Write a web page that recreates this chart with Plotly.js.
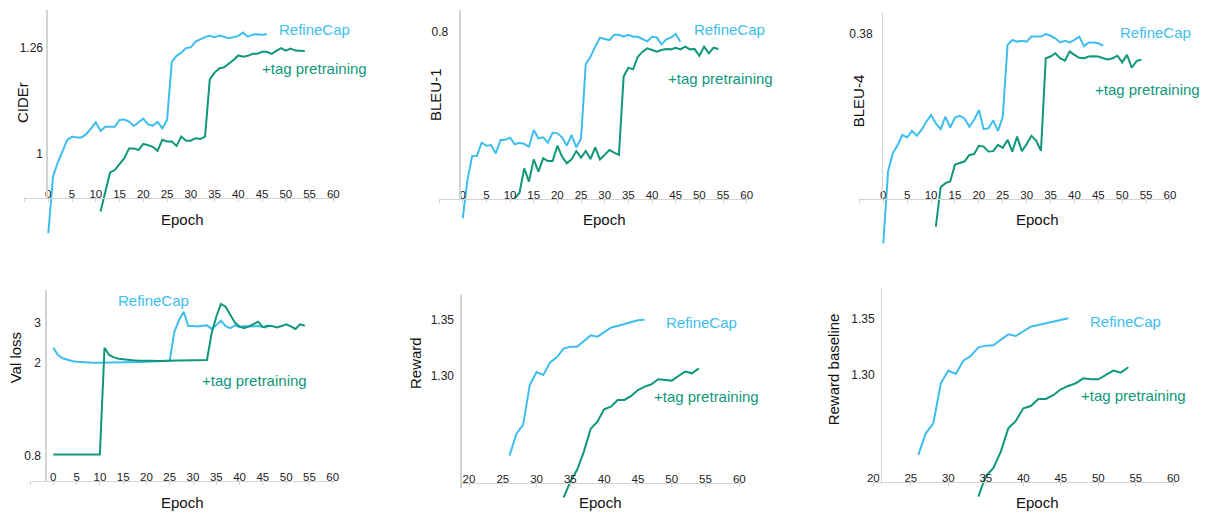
<!DOCTYPE html>
<html>
<head>
<meta charset="utf-8">
<script src="https://cdn.plot.ly/plotly-3.0.1.min.js"></script>
<style>
html,body{margin:0;padding:0;background:#fff;}
#chart{width:1213px;height:517px;}
</style>
</head>
<body>
<div id="chart"></div>
<script>
// ---------------- DATA ----------------
const seriesNames = ["RefineCap", "+tag pretraining"];
const panelTitles = ["CIDEr", "BLEU-1", "BLEU-4", "Val loss", "Reward", "Reward baseline"];
const xTitle = "Epoch";

const epochsRefine = [0,1,2,3,4,5,6,7,8,9,10,11,12,13,14,15,16,17,18,19,20,21,22,23,24,25,26,27,28,29,30,31,32,33,34,35,36,37,38,39,40,41,42,43,44,45,46];
const epochsTag = [11,12,13,14,15,16,17,18,19,20,21,22,23,24,25,26,27,28,29,30,31,32,33,34,35,36,37,38,39,40,41,42,43,44,45,46,47,48,49,50,51,52,53,54];
const epochsTagLoss = [0,1,2,3,4,5,6,7,8,9,10,11,12,13,14,15,16,17,18,19,20,21,22,23,24,25,26,27,28,29,30,31,32,33,34,35,36,37,38,39,40,41,42,43,44,45,46,47,48,49,50,51,52,53,54];
const epochsRefineReward = [26,27,28,29,30,31,32,33,34,35,36,37,38,39,40,41,42,43,44,45,46];
const epochsTagReward = [34,35,36,37,38,39,40,41,42,43,44,45,46,47,48,49,50,51,52,53,54];

const ciderRefine = [0.804,0.943,0.978,1.007,1.033,1.041,1.039,1.039,1.047,1.061,1.076,1.055,1.065,1.065,1.065,1.082,1.083,1.078,1.067,1.076,1.085,1.071,1.068,1.077,1.061,1.082,1.224,1.239,1.247,1.258,1.260,1.274,1.280,1.285,1.288,1.285,1.289,1.286,1.282,1.285,1.288,1.296,1.286,1.291,1.292,1.291,1.292];
const ciderTag = [0.857,0.905,0.953,0.959,0.975,0.988,1.012,1.012,1.008,1.023,1.020,1.016,1.006,1.033,1.029,1.029,1.018,1.041,1.031,1.031,1.037,1.035,1.041,1.182,1.198,1.208,1.211,1.219,1.229,1.240,1.237,1.239,1.244,1.244,1.249,1.249,1.244,1.251,1.258,1.252,1.257,1.252,1.251,1.251];

const bleu1Refine = [0.6775,0.7026,0.7184,0.7186,0.7271,0.7252,0.7256,0.7201,0.7289,0.7291,0.7304,0.7261,0.7271,0.7263,0.7245,0.7355,0.7300,0.7307,0.7271,0.7337,0.7333,0.7307,0.7252,0.7322,0.7241,0.7300,0.7786,0.7836,0.7902,0.7961,0.7952,0.7945,0.7980,0.7980,0.7967,0.7980,0.7967,0.7967,0.7952,0.7937,0.7967,0.7963,0.7917,0.7950,0.7961,0.7985,0.7934];
const bleu1Tag = [0.6906,0.6943,0.7103,0.7016,0.7162,0.7081,0.7169,0.7151,0.7151,0.7252,0.7180,0.7136,0.7162,0.7217,0.7173,0.7217,0.7164,0.7241,0.7162,0.7191,0.7223,0.7206,0.7191,0.7705,0.7764,0.7753,0.7836,0.7869,0.7891,0.7880,0.7869,0.7880,0.7886,0.7884,0.7895,0.7884,0.7902,0.7884,0.7886,0.7842,0.7902,0.7858,0.7895,0.7886];

const bleu4Refine = [0.3294,0.3467,0.3511,0.3531,0.3555,0.3549,0.3565,0.3553,0.3567,0.3587,0.3603,0.3583,0.3569,0.3599,0.3573,0.3597,0.3601,0.3595,0.3575,0.3591,0.3615,0.3569,0.3571,0.3590,0.3565,0.3599,0.3772,0.3784,0.3780,0.3782,0.3780,0.3792,0.3792,0.3792,0.3798,0.3794,0.3788,0.3778,0.3782,0.3778,0.3784,0.3792,0.3769,0.3778,0.3778,0.3776,0.3770];
const bleu4Tag = [0.3334,0.3429,0.3439,0.3443,0.3484,0.3487,0.3491,0.3507,0.3509,0.3529,0.3527,0.3515,0.3516,0.3531,0.3524,0.3543,0.3515,0.3551,0.3516,0.3533,0.3553,0.3541,0.3517,0.3740,0.3744,0.3752,0.3740,0.3734,0.3756,0.3748,0.3741,0.3740,0.3744,0.3745,0.3744,0.3740,0.3737,0.3740,0.3746,0.3730,0.3748,0.3717,0.3733,0.3737];

const valLossRefine = [2.333,2.17,2.10,2.065,2.044,2.03,2.02,2.015,2.012,2.01,2.01,2.01,2.01,2.01,2.012,2.015,2.018,2.02,2.022,2.025,2.028,2.032,2.036,2.04,2.045,2.05,2.73,3.07,3.33,2.89,2.89,2.88,2.90,2.91,2.81,2.91,3.05,2.89,2.83,2.91,2.86,2.89,2.88,2.88,2.89,2.86,2.85];
const valLossTag = [0.81,0.81,0.81,0.81,0.81,0.81,0.81,0.81,0.81,0.81,0.81,2.33,2.17,2.12,2.09,2.08,2.065,2.06,2.055,2.05,2.045,2.045,2.045,2.045,2.05,2.05,2.05,2.05,2.055,2.055,2.06,2.06,2.065,2.065,2.69,3.17,3.60,3.50,3.23,2.99,2.88,2.83,2.88,2.94,3.02,2.86,2.90,2.89,2.85,2.89,2.94,2.88,2.81,2.94,2.90];

const rewardRefine = [1.2274,1.2470,1.2551,1.2913,1.3030,1.3003,1.3117,1.3163,1.3241,1.3259,1.3259,1.3307,1.3361,1.3349,1.3389,1.3431,1.3446,1.3461,1.3482,1.3497,1.3503];
const rewardTag = [1.1895,1.2039,1.2145,1.2310,1.2515,1.2581,1.2693,1.2717,1.2777,1.2777,1.2813,1.2867,1.2898,1.2919,1.2964,1.2958,1.2952,1.2994,1.3033,1.3018,1.3063];

const baselineRefine = [1.2280,1.2473,1.2563,1.2920,1.3033,1.3003,1.3122,1.3164,1.3241,1.3256,1.3259,1.3307,1.3357,1.3342,1.3381,1.3426,1.3440,1.3455,1.3476,1.3491,1.3500];
const baselineTag = [1.1908,1.2092,1.2161,1.2310,1.2518,1.2583,1.2696,1.2717,1.2780,1.2780,1.2813,1.2866,1.2896,1.2920,1.2964,1.2955,1.2955,1.2994,1.3033,1.3015,1.3063];

const epochTickVals = [-5,0,5,10,15,20,25,30,35,40,45,50,55,60];
const epochTickText = ["","0","5","10","15","20","25","30","35","40","45","50","55","60"];
const rewardTickVals = [20,25,30,35,40,45,50,55,60];
const rewardTickText = ["20","25","30","35","40","45","50","55","60"];

const yTickVals = [[1,1.26],[0.8],[0.38],[0.8,2,3],[1.30,1.35],[1.30,1.35]];
const yTickText = [["1","1.26"],["0.8"],["0.38"],["0.8","2","3"],["1.30","1.35"],["1.30","1.35"]];

// ---------------- LAYOUT / STYLE ----------------
const W = 1213, H = 517;
const BLUE = '#3EBEEE', GREEN = '#0E977A';
const FONT = '"Liberation Sans", Arial, Helvetica, sans-serif';
const AXC = '#d3d3d3';

const geo = [
  {xp0:48.3, xe0:0, xp1:333.3, xe1:60, xr:[-5.05,60.5], yAxPx:46, xAxPy:198.3, yTop:10, yBot:240, yLineBot:198.3, ytype:'linear', yv0:1, yp0:153.3, yv1:1.26, yp1:47.3, standoff:3,
   titleY:[22,103], titleX:[182.5,220], lab1:[314,30], lab2:[314,68.3]},
  {xp0:462.7, xe0:0, xp1:746.7, xe1:60, xr:[-5.05,60.5], yAxPx:459.3, xAxPy:199.3, yTop:10, yBot:225, yLineBot:199.3, ytype:'linear', yv0:0.69, yp0:199.3, yv1:0.8, yp1:31.7, standoff:11,
   titleY:[435,95], titleX:[604,220], lab1:[729,30], lab2:[720.3,78.3]},
  {xp0:883.3, xe0:0, xp1:1170, xe1:60, xr:[-5.05,60.5], yAxPx:881.7, xAxPy:199.3, yTop:13, yBot:248, yLineBot:199.3, ytype:'linear', yv0:0.34, yp0:199.3, yv1:0.38, yp1:33.3, standoff:9,
   titleY:[858.3,101], titleX:[1037,219.3], lab1:[1155.5,32.7], lab2:[1147.7,89.3]},
  {xp0:53.3, xe0:0, xp1:332.7, xe1:60, xr:[-5.1,60.5], yAxPx:45, xAxPy:481, yTop:290, yBot:481, yLineBot:481, ytype:'log', yv0:0.8, yp0:455.7, yv1:3, yp1:322.3, standoff:4,
   titleY:[15,358.3], titleX:[182.5,502.3], lab1:[153.8,300], lab2:[254.3,380]},
  {xp0:469, xe0:20, xp1:739.3, xe1:60, xr:[18.67,60.5], yAxPx:460, xAxPy:483.3, yTop:295, yBot:502, yLineBot:488, ytype:'linear', yv0:1.30, yp0:375.3, yv1:1.35, yp1:320, standoff:6,
   titleY:[415.7,363.3], titleX:[600,502.3], lab1:[701.2,322.3], lab2:[706.7,396]},
  {xp0:873.3, xe0:20, xp1:1173.3, xe1:60, xr:[19.95,60.4], yAxPx:880.7, xAxPy:482.3, yTop:288.3, yBot:500, yLineBot:484, ytype:'linear', yv0:1.30, yp0:374.3, yv1:1.35, yp1:318.3, standoff:6,
   titleY:[833.3,369], titleX:[1037,502.3], lab1:[1125.5,321.7], lab2:[1133.3,395]}
];

const seriesX = [
  [epochsRefine, epochsTag],
  [epochsRefine, epochsTag],
  [epochsRefine, epochsTag],
  [epochsRefine, epochsTagLoss],
  [epochsRefineReward, epochsTagReward],
  [epochsRefineReward, epochsTagReward]
];
const seriesY = [
  [ciderRefine, ciderTag],
  [bleu1Refine, bleu1Tag],
  [bleu4Refine, bleu4Tag],
  [valLossRefine, valLossTag],
  [rewardRefine, rewardTag],
  [baselineRefine, baselineTag]
];

function xPx(g, e){ return g.xp0 + (e - g.xe0) * (g.xp1 - g.xp0) / (g.xe1 - g.xe0); }
function yVal(g, py){
  const f = g.ytype === 'log' ? Math.log10 : (v => v);
  const a = f(g.yv0), b = f(g.yv1);
  return a + (py - g.yp0) * (b - a) / (g.yp1 - g.yp0);
}

const traces = [];
const layout = {
  width: W, height: H,
  margin: {l:0, r:0, t:0, b:0, pad:0},
  paper_bgcolor: '#ffffff', plot_bgcolor: 'rgba(0,0,0,0)',
  showlegend: false,
  font: {family: FONT, size: 11, color: '#222'},
  annotations: []
};

const colors = [BLUE, GREEN];

geo.forEach((g, i) => {
  const k = i + 1;
  const xa = 'x' + k, ya = 'y' + k, yl = 'y' + (k + 6);
  const xName = 'xaxis' + k, yName = 'yaxis' + k, ylName = 'yaxis' + (k + 6);
  const isReward = i >= 4;

  for (let s = 0; s < 2; s++) {
    traces.push({
      type: 'scatter', mode: 'lines', name: seriesNames[s],
      x: seriesX[i][s], y: seriesY[i][s],
      xaxis: xa, yaxis: ya,
      line: {color: colors[s], width: 2},
      hoverinfo: 'skip', showlegend: false
    });
  }
  // helper subplot that only draws the vertical axis line
  traces.push({type:'scatter', mode:'lines', x:[], y:[], xaxis: xa, yaxis: yl, hoverinfo:'skip', showlegend:false});

  layout[xName] = {
    domain: [xPx(g, g.xr[0]) / W, xPx(g, g.xr[1]) / W],
    range: g.xr, anchor: 'free', position: 1 - g.xAxPy / H,
    showline: true, linecolor: AXC, linewidth: 1,
    ticks: 'outside', ticklen: 3, tickcolor: AXC, tickwidth: 1,
    ticklabelposition: 'outside', ticklabelstandoff: -18,
    tickmode: 'array',
    tickvals: isReward ? rewardTickVals : epochTickVals,
    ticktext: isReward ? rewardTickText : epochTickText,
    tickfont: {family: FONT, size: 11.5, color: '#222'},
    showgrid: false, zeroline: false, fixedrange: true
  };
  layout[yName] = {
    type: g.ytype,
    domain: [1 - g.yBot / H, 1 - g.yTop / H],
    range: [yVal(g, g.yBot), yVal(g, g.yTop)],
    anchor: 'free', position: g.yAxPx / W,
    showline: false, ticks: '', ticklabelstandoff: g.standoff,
    tickmode: 'array', tickvals: yTickVals[i], ticktext: yTickText[i],
    tickfont: {family: FONT, size: 12, color: '#222'},
    showgrid: false, zeroline: false, fixedrange: true
  };
  layout[ylName] = {
    domain: [1 - g.yLineBot / H, 1 - g.yTop / H],
    range: [0, 1], anchor: 'free', position: g.yAxPx / W,
    showline: true, linecolor: AXC, linewidth: 1.5,
    ticks: '', showticklabels: false, showgrid: false, zeroline: false, fixedrange: true
  };

  const ann = (txt, p, color, angle) => ({
    text: txt, xref: 'paper', yref: 'paper', x: p[0] / W, y: 1 - p[1] / H,
    xanchor: 'center', yanchor: 'middle', showarrow: false, textangle: angle || 0,
    font: {family: FONT, size: 15, color: color}
  });
  layout.annotations.push(ann(panelTitles[i], g.titleY, '#111', -90));
  layout.annotations.push(ann(xTitle, g.titleX, '#111'));
  layout.annotations.push(ann(seriesNames[0], g.lab1, BLUE));
  layout.annotations.push(ann(seriesNames[1], g.lab2, GREEN));
});

Plotly.newPlot('chart', traces, layout, {displayModeBar: false, staticPlot: true});
</script>
</body>
</html>
